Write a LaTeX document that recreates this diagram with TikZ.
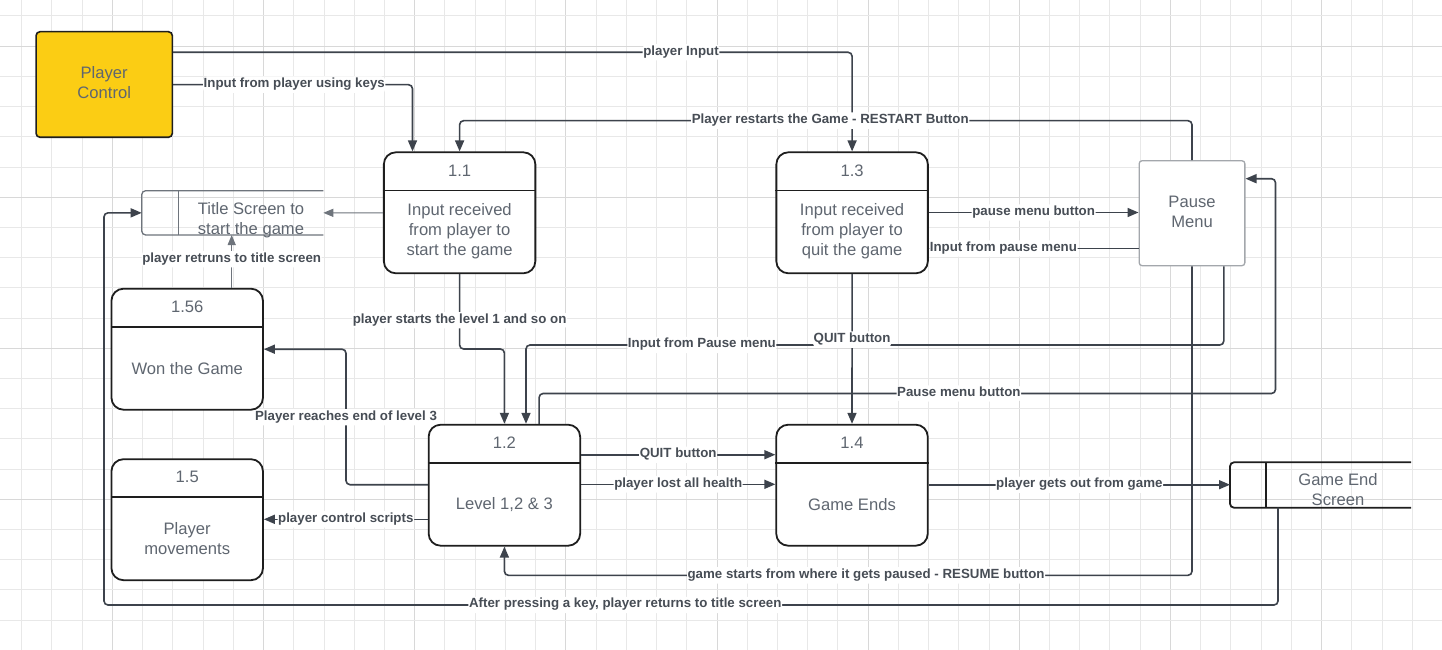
\documentclass[tikz,border=0pt]{standalone}
\usepackage{fontspec}
\setmainfont{Liberation Sans}
\usetikzlibrary{arrows.meta}
\definecolor{gridc}{HTML}{E8E8E8}
\definecolor{gridm}{HTML}{D8D8D8}
\definecolor{linec}{HTML}{3D434C}
\definecolor{lblc}{HTML}{474D55}
\definecolor{txtc}{HTML}{5F6670}
\definecolor{boxc}{HTML}{1E1E1E}
\definecolor{pcyel}{HTML}{FBCD14}
\definecolor{pmgray}{HTML}{A3A7AC}
\definecolor{tsgray}{HTML}{6E747C}
\begin{document}
\begin{tikzpicture}[x=1pt,y=-1pt,
  conn/.style={draw=linec, line width=1.6pt, rounded corners=4pt, -{Triangle[length=11pt,width=9pt]}},
  thinconn/.style={draw=tsgray, line width=1.1pt, rounded corners=4pt, -{Triangle[length=10pt,width=8pt]}},
  lbl/.style={fill=white, text=lblc, font=\fontsize{13.3}{15}\selectfont\bfseries, inner xsep=0.6pt, inner ysep=2pt, text height=9pt, text depth=3.4pt},
  procbox/.style={draw=boxc, line width=1.8pt, rounded corners=12pt, minimum width=151.5pt, minimum height=121pt, inner sep=0pt, fill=white},
  ntxt/.style={text=txtc, font=\fontsize{16.6}{20}\selectfont, align=center, inner sep=0pt},
  storebox/.style={inner sep=0pt, outer sep=0pt}
]
\useasboundingbox (0,0) rectangle (1442,650);
\fill[white] (0,0) rectangle (1442,650);
% grid
\foreach \i in {0,...,47}{
  \pgfmathtruncatemacro\m{mod(\i,5)}
  \ifnum\m=3 \def\gc{gridm}\else\def\gc{gridc}\fi
  \draw[draw=\gc, line width=1pt] ({21.7+30.23*\i},0) -- ({21.7+30.23*\i},650);
}
\foreach \i in {0,...,21}{
  \pgfmathtruncatemacro\m{mod(\i,5)}
  \ifnum\m=1 \def\gc{gridm}\else\def\gc{gridc}\fi
  \draw[draw=\gc, line width=1pt] (0,{16+30.2*\i}) -- (1442,{16+30.2*\i});
}

% nodes
\node[draw=boxc, line width=1.6pt, fill=pcyel, rounded corners=4pt, minimum width=136.3pt, minimum height=105.6pt, inner sep=0pt] (pc) at (104.2,84.5) {};
\node[ntxt] (pc-txt) at (104.2,82.3) {Player\\Control};

\node[procbox] (n11) at (459.6,212.8) {};
\node[procbox] (n13) at (852.1,212.8) {};
\node[procbox] (n12) at (504.4,485.2) {};
\node[procbox] (n14) at (852,485.2) {};
\node[procbox] (n156) at (187.2,349.2) {};
\node[procbox] (n15) at (187.2,519.7) {};

\foreach \n/\num/\txt in {n11/1.1/{Input received\\from player to\\start the game},
                          n13/1.3/{Input received\\from player to\\quit the game},
                          n12/1.2/{Level 1,2 \& 3},
                          n14/1.4/{Game Ends},
                          n156/1.56/{Won the Game},
                          n15/1.5/{Player\\movements}}{
  \draw[draw=boxc, line width=1.8pt] ([yshift=-39pt]\n.north west) -- ([yshift=-39pt]\n.north east);
  \node[ntxt] (\n-num) at ([yshift=-19pt]\n.north) {\num};
  \node[ntxt] (\n-txt) at ([yshift=-80.3pt]\n.north) {\txt};
}

\node[draw=pmgray, line width=1.3pt, rounded corners=3pt, fill=white, minimum width=105.7pt, minimum height=105pt, inner sep=0pt] (pm) at (1192,213.2) {};
\node[ntxt] (pm-txt) at (1192,212.2) {Pause\\Menu};

\node[storebox, minimum width=181.6pt, minimum height=44.3pt] (ts) at (232.5,212.85) {};
\draw[draw=tsgray, line width=1.3pt, rounded corners=4pt] (ts.north east) -- (ts.north west) -- (ts.south west) -- (ts.south east);
\draw[draw=tsgray, line width=1.3pt] ([xshift=37pt]ts.north west) -- ([xshift=37pt]ts.south west);
\node[ntxt] (ts-txt) at (251,219.8) {Title Screen to\\start the game};

\node[storebox, minimum width=181pt, minimum height=45.4pt] (ge) at (1320.5,485) {};
\draw[draw=boxc, line width=1.8pt, rounded corners=4pt] (ge.north east) -- (ge.north west) -- (ge.south west) -- (ge.south east);
\draw[draw=boxc, line width=1.8pt] ([xshift=35.7pt]ge.north west) -- ([xshift=35.7pt]ge.south west);
\node[ntxt] (ge-txt) at (1338,489.6) {Game End\\Screen};

% connectors
\draw[conn] (pc.east |- 0,52.3) -| node[lbl,pos=0.374]{player Input} (n13.north);
\draw[conn] (pc.east |- 0,84.7) -| node[lbl,pos=0.253]{Input from player using keys} (n11.north -| 412.5,0);
\draw[conn] (pm.north) |- node[lbl,pos=0.747]{Player restarts the Game - RESTART Button} (n11.north |- 0,120.7) -- (n11.north);
\draw[thinconn] (n11.west) -- (ts.east);
\draw[thinconn] (n156.north -| 231.7,0) -- node[lbl,pos=0.54]{player retruns to title screen} (ts.south -| 231.7,0);
\draw[conn] (n11.south) -- node[lbl,pos=0.615]{player starts the level 1 and so on} (n11.south |- 0,349) -| (n12.north);
\draw[conn] (pm.south -| 1223.8,0) |- node[lbl,pos=0.874]{Input from Pause menu} (526,345) -- (n12.north -| 526,0);
\draw[conn] (n13.south) -- node[lbl,pos=0.437]{QUIT button} (n14.north);
\draw[conn] (n12.north -| 539.1,0) |- node[lbl,pos=0.785]{Pause menu button} (1275.5,393.5) |- (pm.east |- 0,178.7);
\draw[conn] (n13.east |- 0,212.5) -- node[lbl]{pause menu button} (pm.west |- 0,212.5);
\draw[conn] (pm.west |- 0,248.5) -- node[lbl,pos=0.644]{Input from pause menu} (n13.east |- 0,248.5);
\draw[conn] (n12.east |- 0,454.7) -- node[lbl]{QUIT button} (n14.west |- 0,454.7);
\draw[conn] (n12.east |- 0,484.3) -- node[lbl]{player lost all health} (n14.west |- 0,484.3);
\draw[conn] (n14.east |- 0,484.7) -- node[lbl]{player gets out from game} (ge.west |- 0,484.7);
\draw[conn] (pm.south) |- node[lbl,pos=0.737]{game starts from where it gets paused - RESUME button} (n12.south |- 0,575.3) -- (n12.south);
\draw[conn] (ge.south -| 1278,0) |- node[lbl,pos=0.778]{After pressing a key, player returns to title screen} (104,605) |- (ts.west);
\draw[conn] (n12.west |- 0,484.7) -| node[lbl,pos=0.749]{Player reaches end of level 3} (346,349.2) -- (n156.east);
\draw[conn] (n12.west |- 0,519.3) -- node[lbl]{player control scripts} (n15.east |- 0,519.3);
\end{tikzpicture}
\end{document}
